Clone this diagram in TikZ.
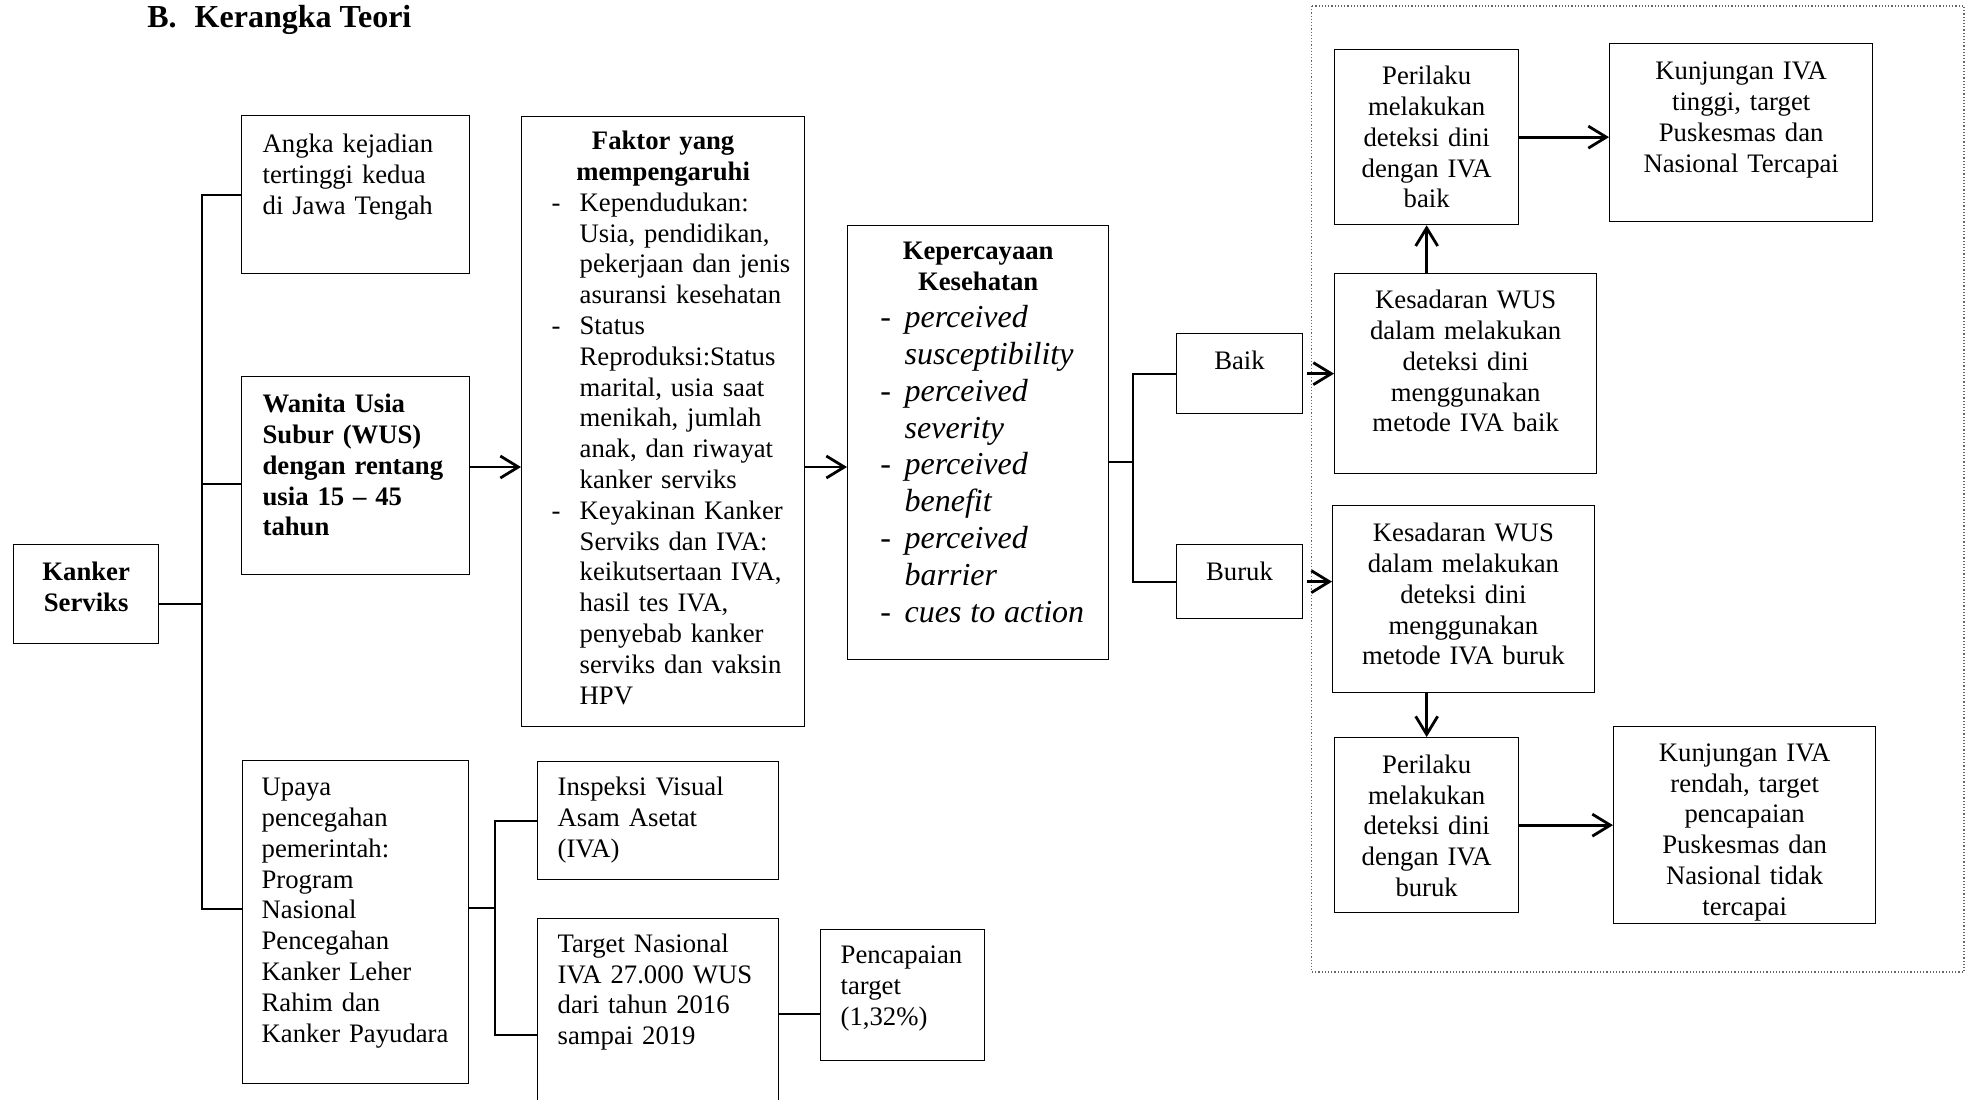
\documentclass[tikz,border=0pt]{standalone}
\usepackage{fontspec}
\setmainfont{Liberation Serif}
\usetikzlibrary{arrows.meta}

\newcommand{\bodyfont}{\fontsize{13.35}{15.4}\selectfont}
\newcommand{\beliefsize}{\fontsize{16}{18.45}\selectfont}
\newcommand{\fdash}{\hspace*{9pt}\makebox[14pt][l]{-}}
\newcommand{\fcont}{\hspace*{23pt}}
\newcommand{\kdash}{\hspace*{6.3pt}\makebox[12.2pt][l]{-}}
\newcommand{\kcont}{\hspace*{18.5pt}}

\begin{document}
\begin{tikzpicture}[x=0.5pt, y=-0.5pt]
	% Styles
	\tikzstyle{frame_box} = [draw=black, line width=0.65pt, anchor=north west, inner ysep=0pt, font=\bodyfont]
	\tikzstyle{link_line} = [draw=black, line width=1pt]
	\tikzstyle{flow_arrow} = [draw=black, line width=1.4pt, -{Straight Barb[length=9pt,width=11pt]}]

	\useasboundingbox (0,0) rectangle (1969,1099);

	% Title
	\node[font=\fontsize{16}{18}\selectfont\bfseries, anchor=base west, inner sep=0pt] (title) at (147,27) {B.\hspace{9pt}Kerangka Teori};

	% Left column
	\node[frame_box, text width=62.5pt, inner xsep=5pt, text height=18pt, text depth=31.5pt] (kanker) at (13,544) {\centering\bfseries Kanker\\Serviks\par};
	\node[frame_box, text width=93pt, inner xsep=10.5pt, text height=18.5pt, text depth=60.5pt] (angka) at (241,115) {\raggedright Angka kejadian\\tertinggi kedua\\di Jawa Tengah\par};
	\node[frame_box, text width=93pt, inner xsep=10.5pt, text height=18pt, text depth=81pt] (wanita) at (241,376) {\raggedright\bfseries Wanita Usia\\Subur (WUS)\\dengan rentang\\usia 15 – 45\\tahun\par};
	\node[frame_box, text width=94pt, inner xsep=9.5pt, text height=17.5pt, text depth=144pt] (upaya) at (242,760) {\raggedright Upaya\\pencegahan\\pemerintah:\\Program\\Nasional\\Pencegahan\\Kanker Leher\\Rahim dan\\Kanker Payudara\par};

	% Factors and health beliefs
	\node[frame_box, text width=129.5pt, inner xsep=6pt, text height=16.75pt, text depth=288.25pt] (faktor) at (521,115.5) {{\centering\bfseries Faktor yang\\mempengaruhi\par}
		\raggedright
		\fdash Kependudukan:\\
		\fcont Usia, pendidikan,\\
		\fcont pekerjaan dan jenis\\
		\fcont asuransi kesehatan\\
		\fdash Status\\
		\fcont Reproduksi:Status\\
		\fcont marital, usia saat\\
		\fcont menikah, jumlah\\
		\fcont anak, dan riwayat\\
		\fcont kanker serviks\\
		\fdash Keyakinan Kanker\\
		\fcont Serviks dan IVA:\\
		\fcont keikutsertaan IVA,\\
		\fcont hasil tes IVA,\\
		\fcont penyebab kanker\\
		\fcont serviks dan vaksin\\
		\fcont HPV\par};
	\node[frame_box, text width=110.5pt, inner xsep=10pt, text height=17.25pt, text depth=200pt] (kepercayaan) at (847,224.5) {{\centering\bfseries Kepercayaan\\Kesehatan\par}
		{\raggedright\beliefsize
		\kdash\textit{perceived}\\
		\kcont\textit{susceptibility}\\
		\kdash\textit{perceived}\\
		\kcont\textit{severity}\\
		\kdash\textit{perceived}\\
		\kcont\textit{benefit}\\
		\kdash\textit{perceived}\\
		\kcont\textit{barrier}\\
		\kdash\textit{cues to action}\par}};

	% Outcome
	\node[frame_box, text width=52.85pt, inner xsep=5pt, text height=18pt, text depth=22pt] (baik) at (1176,333) {\centering Baik\par};
	\node[frame_box, text width=52.85pt, inner xsep=5pt, text height=18pt, text depth=19pt] (buruk) at (1176,544) {\centering Buruk\par};

	% Dotted frame on the right
	\draw[densely dotted, black!60, line width=0.6pt] (1311.5,6) rectangle (1964,972);

	\node[frame_box, text width=121pt, inner xsep=5pt, text height=17.5pt, text depth=82.5pt] (kbaik) at (1334,273) {\centering Kesadaran WUS\\dalam melakukan\\deteksi dini\\menggunakan\\metode IVA baik\par};
	\node[frame_box, text width=84pt, inner xsep=4pt, text height=17.5pt, text depth=70pt] (pbaik) at (1334,49) {\centering Perilaku\\melakukan\\deteksi dini\\dengan IVA\\baik\par};
	\node[frame_box, text width=121.5pt, inner xsep=5pt, text height=18pt, text depth=71pt] (tinggi) at (1609,43) {\centering Kunjungan IVA\\tinggi, target\\Puskesmas dan\\Nasional Tercapai\par};
	\node[frame_box, text width=120.75pt, inner xsep=5pt, text height=18pt, text depth=75.5pt] (kburuk) at (1332,505) {\centering Kesadaran WUS\\dalam melakukan\\deteksi dini\\menggunakan\\metode IVA buruk\par};
	\node[frame_box, text width=84pt, inner xsep=4pt, text height=17.85pt, text depth=69.65pt] (pburuk) at (1334,737) {\centering Perilaku\\melakukan\\deteksi dini\\dengan IVA\\buruk\par};
	\node[frame_box, text width=121pt, inner xsep=5pt, text height=17.35pt, text depth=81.15pt] (rendah) at (1613,726) {\centering Kunjungan IVA\\rendah, target\\pencapaian\\Puskesmas dan\\Nasional tidak\\tercapai\par};

	% Government program
	\node[frame_box, text width=100.5pt, inner xsep=10pt, text height=17pt, text depth=42pt] (inspeksi) at (537,761) {\raggedright Inspeksi Visual\\Asam Asetat\\(IVA)\par};
	\node[frame_box, text width=100.5pt, inner xsep=10pt, text height=16.85pt, text depth=99.15pt] (target) at (537,918) {\raggedright Target Nasional\\IVA 27.000 WUS\\dari tahun 2016\\sampai 2019\par};
	\node[frame_box, text width=62pt, inner xsep=10pt, text height=17pt, text depth=48.5pt] (pencapaian) at (820,929) {\raggedright Pencapaian\\target\\(1,32\%)\par};

	% Junction points
	\coordinate (trunk) at (202,909);
	\coordinate (mainrow) at (0,467);
	\coordinate (split) at (1133,462);
	\coordinate (fork) at (495,908);

	% Connectors
	\draw[link_line] (angka.west) -| (trunk) -- (trunk -| upaya.west);
	\draw[link_line] ([yshift=-4.75pt]kanker.east) -- ([yshift=-4.75pt]kanker.east -| trunk);
	\draw[link_line] ([yshift=-4pt]wanita.west -| trunk) -- ([yshift=-4pt]wanita.west);
	\draw[flow_arrow] (wanita.east |- mainrow) -- (faktor.west |- mainrow);
	\draw[flow_arrow] (faktor.east |- mainrow) -- (kepercayaan.west |- mainrow);
	\draw[link_line] (kepercayaan.east |- split) -- (split);
	\draw[link_line] (baik.west) -| (split) |- (buruk.west);
	\draw[flow_arrow, shorten <=2pt] (baik.east) -- (baik.east -| kbaik.west);
	\draw[flow_arrow, shorten <=2pt] (buruk.east) -- (buruk.east -| kburuk.west);
	\draw[flow_arrow] (kbaik.north -| pbaik.south) -- (pbaik.south);
	\draw[flow_arrow] (kburuk.south -| pburuk.north) -- (pburuk.north);
	\draw[flow_arrow] (pbaik.east) -- (pbaik.east -| tinggi.west);
	\draw[flow_arrow] (pburuk.east) -- (pburuk.east -| rendah.west);
	\draw[link_line] (upaya.east |- fork) -- (fork);
	\draw[link_line] (inspeksi.west) -| (fork) |- (target.west);
	\draw[link_line] ([yshift=-9.25pt]pencapaian.west -| target.east) -- ([yshift=-9.25pt]pencapaian.west);

\end{tikzpicture}
\end{document}
